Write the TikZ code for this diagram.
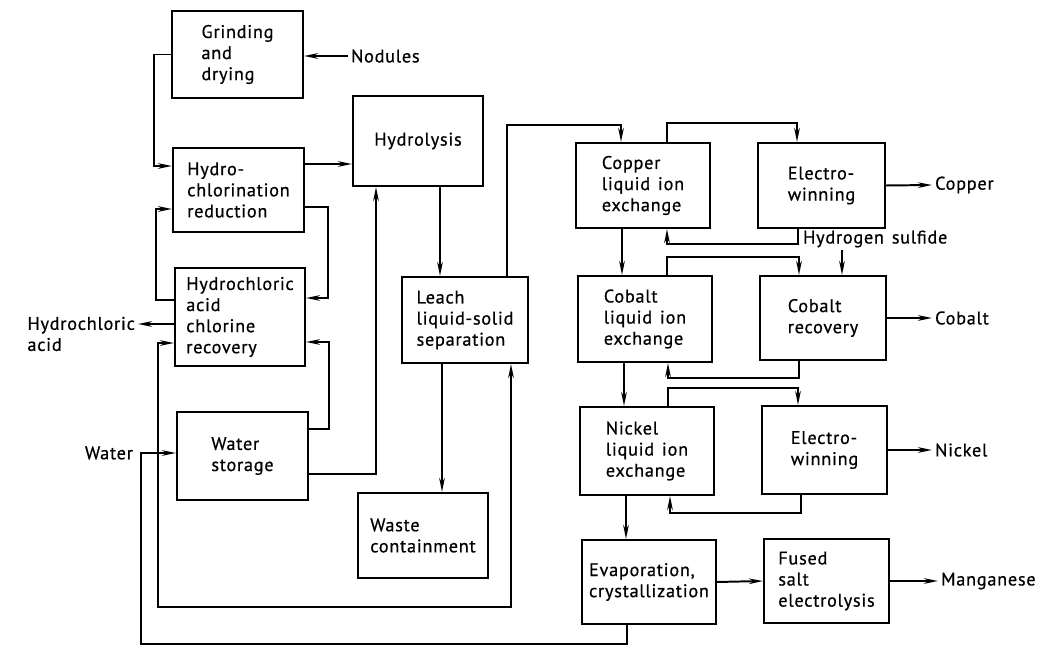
\documentclass[tikz,border=0pt]{standalone}
\usepackage{fontspec}
\setmainfont{PT Sans}
\newfontfamily\sheetfont{PT Sans}[FakeBold=0.6, LetterSpace=4, WordSpace=1.4]
\usetikzlibrary{arrows.meta}

\begin{document}
\begin{tikzpicture}[
    x=0.025cm, y=-0.025cm,
    >={Stealth[length=10pt, width=4pt]},
    flow/.style={line width=1.4pt},
    unit/.style={draw, line width=1.5pt, align=left, inner sep=2pt,
        font=\sheetfont\fontsize{13}{15}\selectfont},
    boxsz/.style 2 args={minimum width=#1*\px, minimum height=#2*\px},
    tag/.style={font=\sheetfont\fontsize{13}{15}\selectfont, inner sep=2pt},
]

    \def\px{0.025cm}   % one pixel of the 1060 x 648 sheet

    \useasboundingbox (0,0) rectangle (1060,648);

    % =============================================================
    % Left column: preparation and acid recovery
    % =============================================================
    \node[unit, boxsz={131}{87}] (grind) at (237.5,54.5) {Grinding\\and\\drying};
    \node[unit, boxsz={131}{84}] (hcr) at (238.5,190) {Hydro-\\chlorination\\reduction};
    \node[unit, boxsz={130}{98}] (hacr) at (240,317) {Hydrochloric\\acid\\chlorine\\recovery};
    \node[unit, boxsz={131}{88}] (ws) at (242.5,456) {Water\\storage};

    \node[tag, anchor=west] (nod) at (348,56) {Nodules};
    \node[tag, align=left, anchor=east] (hcl) at (138,334) {Hydrochloric\\acid};
    \node[tag, anchor=east] (water) at (136,453) {Water};

    % =============================================================
    % Middle column: hydrolysis and leaching
    % =============================================================
    \node[unit, boxsz={130}{90}] (hyd) at (418,141) {Hydrolysis};
    \node[unit, boxsz={126}{86}] (leach) at (465,320) {Leach\\liquid-solid\\separation};
    \node[unit, boxsz={130}{85}] (waste) at (423,535.5) {Waste\\containment};

    % =============================================================
    % Right columns: metal recovery
    % =============================================================
    \node[unit, boxsz={134}{85}] (cuix) at (643,185.5) {Copper\\liquid ion\\exchange};
    \node[unit, boxsz={127}{85}] (ew1) at (821.5,185.5) {Electro-\\winning};
    \node[unit, boxsz={134}{86}] (coix) at (645,319) {Cobalt\\liquid ion\\exchange};
    \node[unit, boxsz={126}{84}] (cor) at (823,318) {Cobalt\\recovery};
    \node[unit, boxsz={134}{88}] (niix) at (647,451) {Nickel\\liquid ion\\exchange};
    \node[unit, boxsz={125}{88}] (ew2) at (824.5,450) {Electro-\\winning};
    \node[unit, boxsz={134}{84}] (evap) at (649,582) {Evaporation,\\crystallization};
    \node[unit, boxsz={125}{84}] (fse) at (826.5,581) {Fused\\salt\\electrolysis};

    \node[tag, anchor=west] (cu) at (932,185) {Copper};
    \node[tag, anchor=west] (hs) at (800,239) {Hydrogen sulfide};
    \node[tag, anchor=west] (co) at (932,318) {Cobalt};
    \node[tag, anchor=west] (ni) at (932,450) {Nickel};
    \node[tag, anchor=west] (mn) at (938,581) {Manganese};

    \coordinate (wcorner) at (141,453);
    \coordinate (wjoin) at (158,453);

    % left column flows
    \draw[flow, ->] (nod.west) -- (grind.east |- nod.west);
    \draw[flow, ->] (grind.west) -- ++(-17,0) |- (hcr.west |- 0,166);
    \draw[flow, ->] (hcr.east |- 0,164) -- (hyd.west |- 0,164);
    \draw[flow, ->] (hcr.east |- 0,207) -- ++(23,0) |- (hacr.east |- 0,298);
    \draw[flow, ->] (hacr.west |- 0,300) -- ++(-18,0) |- (hcr.west |- 0,209);
    \draw[flow, ->] (hacr.west |- 0,324) -- (hcl.east |- 0,324);
    \draw[flow, ->] (ws.east |- 0,429) -- ++(20,0) |- (hacr.east |- 0,342);
    \draw[flow, ->] (ws.east |- 0,474) -| (hyd.south -| 376,0);

    % water supply, fed back from the evaporator
    \draw[flow, ->] (evap.south -| 627,0) -- ++(0,19) -| (wcorner)
        -- (ws.west |- wcorner);
    \draw[flow, ->] (wjoin) |- (hacr.west |- 0,343);
    \draw[flow, ->] (wjoin) -- ++(0,154) -| (leach.south -| 511,0);

    % middle column flows
    \draw[flow, ->] (hyd.south -| 440,0) -- (leach.north -| 440,0);
    \draw[flow, ->] (leach.south -| 442,0) -- (waste.north -| 442,0);
    \draw[flow, ->] (leach.north -| 507,0) -- (507,125) -| (cuix.north -| 621,0);

    % copper
    \draw[flow, ->] (cuix.north -| 667,0) -- (667,123) -| (ew1.north -| 797,0);
    \draw[flow, ->] (ew1.south -| 798,0) -- (798,244) -| (cuix.south -| 667,0);
    \draw[flow, ->] (ew1.east) -- (cu.west);
    \draw[flow, ->] (cuix.south -| 622,0) -- (coix.north -| 622,0);

    % cobalt
    \draw[flow, ->] (coix.north -| 667,0) -- (667,257) -| (cor.north -| 799,0);
    \draw[flow, ->] (hs.south -| 842,0) -- (cor.north -| 842,0);
    \draw[flow, ->] (cor.south -| 799,0) -- (799,378) -| (coix.south -| 668,0);
    \draw[flow, ->] (cor.east) -- (co.west);
    \draw[flow, ->] (coix.south -| 624,0) -- (niix.north -| 624,0);

    % nickel
    \draw[flow, ->] (niix.north -| 668,0) -- (668,388) -| (ew2.north -| 798,0);
    \draw[flow, ->] (ew2.south -| 801,0) -- (801,513) -| (niix.south -| 670,0);
    \draw[flow, ->] (ew2.east) -- (ni.west);
    \draw[flow, ->] (niix.south -| 626,0) -- (evap.north -| 626,0);

    % manganese
    \draw[flow, ->] (evap.east) -- (fse.west);
    \draw[flow, ->] (fse.east) -- (mn.west);

\end{tikzpicture}
\end{document}
